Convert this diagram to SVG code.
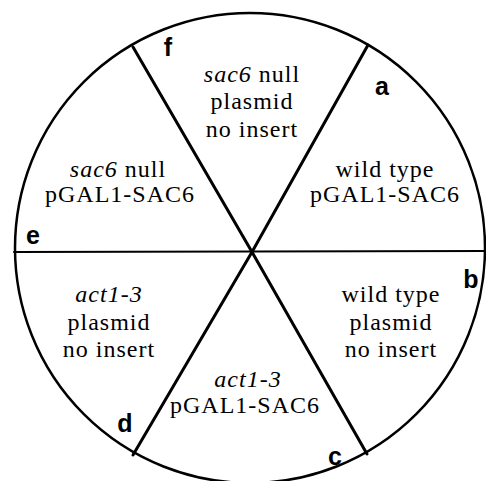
<svg xmlns="http://www.w3.org/2000/svg" width="486" height="481" viewBox="0 0 486 481">
<style>
.t{font-family:"Liberation Serif","Times New Roman",serif;font-size:24px;fill:#000;text-anchor:middle;letter-spacing:1px}
.i{font-style:italic}
.l{font-family:"Liberation Sans",Arial,sans-serif;font-weight:bold;font-size:25px;fill:#000;text-anchor:middle}
.s{stroke:#000;fill:none;stroke-linecap:round}
</style>
<rect width="486" height="481" fill="#fff"/>
<g id="dish">
<circle class="s" cx="250" cy="248" r="235" stroke-width="2.5"/>
</g>
<g id="connectors">
<line class="s" x1="14" y1="252" x2="486" y2="251" stroke-width="2"/>
<line class="s" x1="133" y1="47" x2="252" y2="252" stroke-width="3"/>
<line class="s" x1="368" y1="45" x2="252" y2="252" stroke-width="3"/>
<line class="s" x1="133" y1="455" x2="252" y2="252" stroke-width="3"/>
<line class="s" x1="367" y1="454" x2="252" y2="252" stroke-width="3"/>
</g>
<g id="sector-a">
<text class="l" x="382" y="95">a</text>
<text class="t" x="385" y="177">wild type</text>
<text class="t" x="385" y="202">pGAL1-SAC6</text>
</g>
<g id="sector-b">
<text class="l" x="471" y="288">b</text>
<text class="t" x="391" y="302">wild type</text>
<text class="t" x="391" y="330">plasmid</text>
<text class="t" x="391" y="357">no insert</text>
</g>
<g id="sector-c">
<text class="l" x="335" y="465">c</text>
<text class="t i" x="248" y="387">act1-3</text>
<text class="t" x="245" y="413">pGAL1-SAC6</text>
</g>
<g id="sector-d">
<text class="l" x="125" y="432">d</text>
<text class="t i" x="109" y="302">act1-3</text>
<text class="t" x="109" y="330">plasmid</text>
<text class="t" x="109" y="357">no insert</text>
</g>
<g id="sector-e">
<text class="l" x="33" y="244">e</text>
<text class="t" x="118" y="177"><tspan class="i">sac6</tspan> null</text>
<text class="t" x="120" y="202">pGAL1-SAC6</text>
</g>
<g id="sector-f">
<text class="l" x="168" y="56">f</text>
<text class="t" x="252" y="82"><tspan class="i">sac6</tspan> null</text>
<text class="t" x="252" y="109">plasmid</text>
<text class="t" x="252" y="137">no insert</text>
</g>
</svg>
